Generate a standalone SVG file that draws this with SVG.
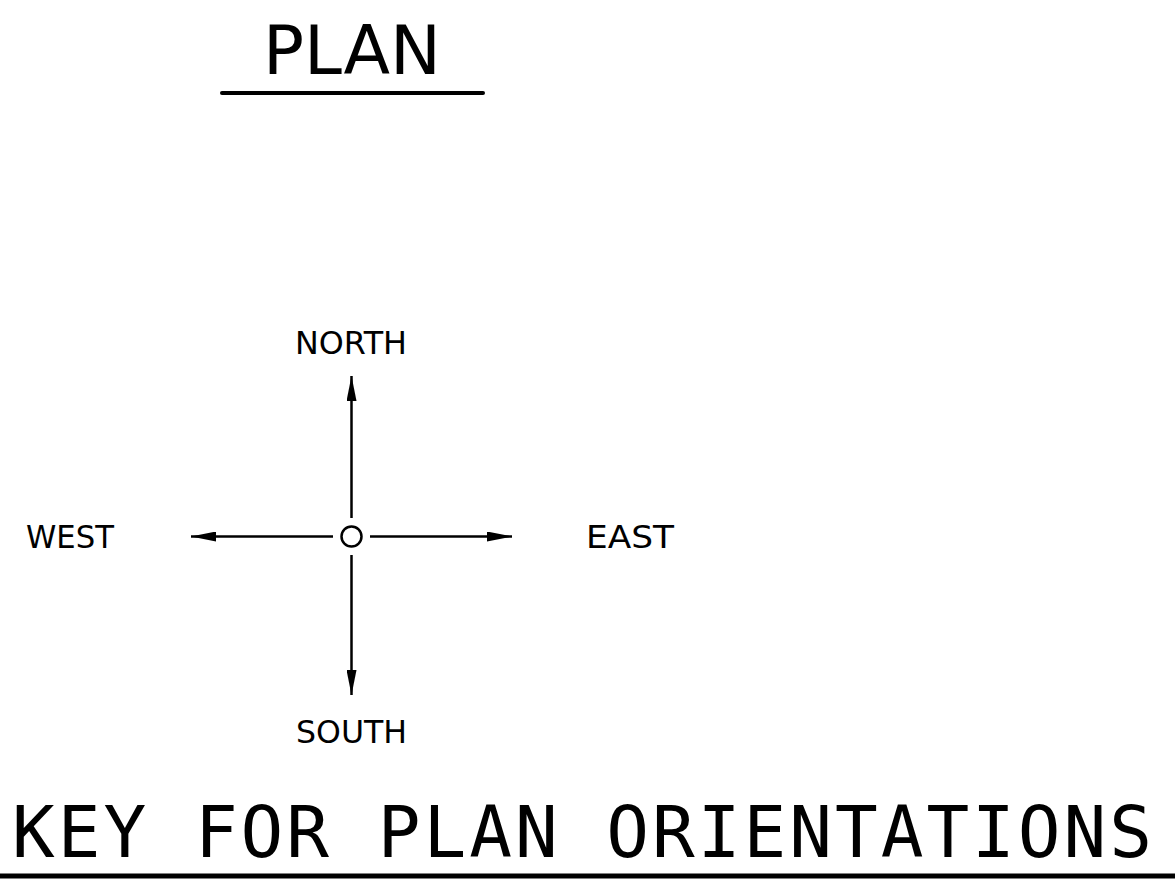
<svg xmlns="http://www.w3.org/2000/svg" width="1175" height="887" viewBox="0 0 1175 887">
<style>
text{font-family:"DejaVu Sans","Liberation Sans",sans-serif;fill:#000}
.mono{font-family:"DejaVu Sans Mono","Liberation Mono",monospace}
.ln{stroke:#000;stroke-width:2.5;fill:none}
.ul{stroke:#000;fill:none}
</style>
<defs>
<marker id="ah" viewBox="0 0 25 10" refX="25" refY="5" markerWidth="25" markerHeight="10" markerUnits="userSpaceOnUse" orient="auto">
<path d="M0,0 L25,5 L0,10 Z" fill="#000"/>
</marker>
</defs>
<rect width="1175" height="887" fill="#fff"/>
<g id="title">
<text x="263" y="74" font-size="68" textLength="178" lengthAdjust="spacingAndGlyphs">PLAN</text>
<line class="ul" x1="222" y1="93" x2="483" y2="93" stroke-width="4" stroke-linecap="round"/>
</g>
<g id="north"><text x="295" y="354" font-size="32" textLength="112" lengthAdjust="spacingAndGlyphs">NORTH</text></g>
<g id="south"><text x="296" y="743" font-size="32" textLength="111" lengthAdjust="spacingAndGlyphs">SOUTH</text></g>
<g id="west"><text x="26" y="548" font-size="32" textLength="88" lengthAdjust="spacingAndGlyphs">WEST</text></g>
<g id="east"><text x="586" y="548" font-size="32" textLength="88" lengthAdjust="spacingAndGlyphs">EAST</text></g>
<g id="center"><circle cx="351.5" cy="536.5" r="10" class="ln"/></g>
<g id="connectors">
<line class="ln" x1="351.5" y1="518" x2="351.5" y2="376" marker-end="url(#ah)"/>
<line class="ln" x1="351.5" y1="555" x2="351.5" y2="695" marker-end="url(#ah)"/>
<line class="ln" x1="333" y1="536.5" x2="191" y2="536.5" marker-end="url(#ah)"/>
<line class="ln" x1="370" y1="536.5" x2="512" y2="536.5" marker-end="url(#ah)"/>
</g>
<g id="caption">
<text class="mono" x="12" y="857" font-size="71" textLength="1140" lengthAdjust="spacing">KEY FOR PLAN ORIENTATIONS</text>
<line class="ul" x1="0" y1="876" x2="1175" y2="876" stroke-width="5"/>
</g>
</svg>
